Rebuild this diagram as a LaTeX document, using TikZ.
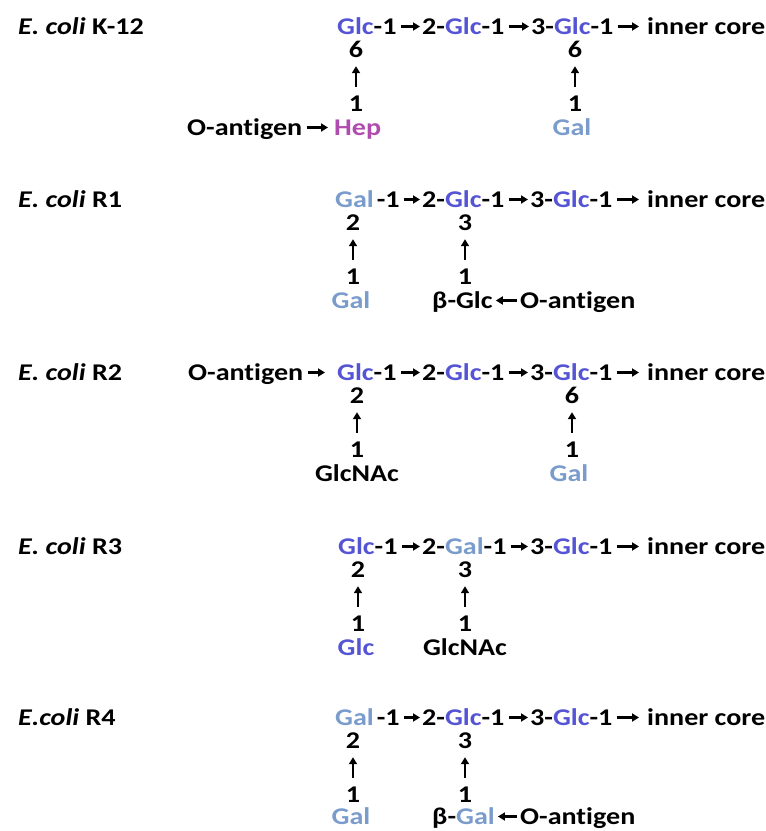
\documentclass[tikz,border=0pt]{standalone}
\usepackage{fontspec}
\setmainfont[FakeStretch=1.17, Ligatures=NoCommon]{Carlito}
\usetikzlibrary{arrows.meta}
\definecolor{glccol}{RGB}{84,84,212}
\definecolor{galcol}{RGB}{122,156,204}
\definecolor{hepcol}{RGB}{176,76,176}
\newcommand{\Glc}{\textcolor{glccol}{Glc}}
\newcommand{\Gal}{\textcolor{galcol}{Gal}}
\newcommand{\Hep}{\textcolor{hepcol}{Hep}}
\tikzset{
  txt/.style={inner sep=0pt, font=\fontsize{24}{24}\selectfont\bfseries, text height=15pt, text depth=0pt},
  lw/.style={txt, anchor=base west},
  lc/.style={txt, anchor=base},
  arrbase/.style={line width=2.2pt, -{Triangle[length=7pt,width=8pt]}},
  harr/.style={arrbase, shorten <=4pt, shorten >=2pt},
  varr/.style={arrbase, shorten <=9pt, shorten >=9pt},
}
\begin{document}
\begin{tikzpicture}[x=1pt,y=-1pt]
\useasboundingbox (0,0) rectangle (766,831);
% ---------- Row 1: K-12 ----------
\def\c{27}
\node[lw] (t1) at (18,\c+7) {\textit{E. coli} K-12};
\node[lw] (a1) at (337,\c+7) {\Glc-1};
\node[lw] (a2) at (422,\c+7) {2-\Glc-1};
\node[lw] (a3) at (531,\c+7) {3-\Glc-1};
\node[lw] (a4) at (647,\c+7) {inner core};
\draw[harr] (a1) -- (a2);
\draw[harr] (a2) -- (a3);
\draw[harr, shorten >=8pt] (a3) -- (a4);
\node[lc] (a5) at (356,\c+30) {6};
\node[lc] (a6) at (575,\c+30) {6};
\node[lc] (a7) at (356,\c+84) {1};
\node[lc] (a8) at (575,\c+84) {1};
\draw[varr] (a7) -- (a5);
\draw[varr] (a8) -- (a6);
\node[lw] (a9) at (187,\c+108) {O-antigen};
\node[lw] (a10) at (334,\c+108) {\Hep};
\node[lc] (a11) at (572,\c+108) {\Gal};
\draw[harr, shorten >=6pt] (a9) -- (a10);
% ---------- Row 2: R1 ----------
\def\c{200}
\node[lw] (t2) at (18,\c+7) {\textit{E. coli} R1};
\node[lw] (b1) at (335,\c+7) {\Gal\kern3pt-1};
\node[lw] (b2) at (422,\c+7) {2-\Glc-1};
\node[lw] (b3) at (530,\c+7) {3-\Glc-1};
\node[lw] (b4) at (647,\c+7) {inner core};
\draw[harr] (b1) -- (b2);
\draw[harr] (b2) -- (b3);
\draw[harr, shorten >=8pt] (b3) -- (b4);
\node[lc] (b5) at (353,\c+30) {2};
\node[lc] (b6) at (465,\c+30) {3};
\node[lc] (b7) at (353,\c+84) {1};
\node[lc] (b8) at (465,\c+84) {1};
\draw[varr] (b7) -- (b5);
\draw[varr] (b8) -- (b6);
\node[lc] (b9) at (351,\c+108) {\Gal};
\node[lw] (b10) at (432,\c+108) {β-Glc};
\node[lw] (b11) at (520,\c+108) {O-antigen};
\draw[harr, shorten <=3pt, shorten >=3pt] (b11) -- (b10);
% ---------- Row 3: R2 ----------
\def\c{373}
\node[lw] (t3) at (18,\c+7) {\textit{E. coli} R2};
\node[lw] (c0) at (188,\c+7) {O-antigen};
\node[lw] (c1) at (337,\c+7) {\Glc-1};
\node[lw] (c2) at (422,\c+7) {2-\Glc-1};
\node[lw] (c3) at (530,\c+7) {3-\Glc-1};
\node[lw] (c4) at (647,\c+7) {inner core};
\draw[harr, shorten >=12pt] (c0) -- (c1);
\draw[harr] (c1) -- (c2);
\draw[harr] (c2) -- (c3);
\draw[harr, shorten >=8pt] (c3) -- (c4);
\node[lc] (c5) at (357,\c+30) {2};
\node[lc] (c6) at (572,\c+30) {6};
\node[lc] (c7) at (357,\c+84) {1};
\node[lc] (c8) at (572,\c+84) {1};
\draw[varr] (c7) -- (c5);
\draw[varr] (c8) -- (c6);
\node[lc] (c9) at (357,\c+108) {GlcNAc};
\node[lc] (c10) at (569,\c+108) {\Gal};
% ---------- Row 4: R3 ----------
\def\c{547}
\node[lw] (t4) at (18,\c+7) {\textit{E. coli} R3};
\node[lw] (d1) at (338,\c+7) {\Glc-1};
\node[lw] (d2) at (422,\c+7) {2-\Gal-1};
\node[lw] (d3) at (530,\c+7) {3-\Glc-1};
\node[lw] (d4) at (647,\c+7) {inner core};
\draw[harr] (d1) -- (d2);
\draw[harr] (d2) -- (d3);
\draw[harr, shorten >=8pt] (d3) -- (d4);
\node[lc] (d5) at (358,\c+30) {2};
\node[lc] (d6) at (465,\c+30) {3};
\node[lc] (d7) at (358,\c+84) {1};
\node[lc] (d8) at (465,\c+84) {1};
\draw[varr] (d7) -- (d5);
\draw[varr] (d8) -- (d6);
\node[lc] (d9) at (356,\c+108) {\Glc};
\node[lc] (d10) at (465,\c+108) {GlcNAc};
% ---------- Row 5: R4 ----------
\def\c{718}
\node[lw] (t5) at (18,\c+7) {\textit{E.coli} R4};
\node[lw] (e1) at (335,\c+7) {\Gal\kern3pt-1};
\node[lw] (e2) at (422,\c+7) {2-\Glc-1};
\node[lw] (e3) at (530,\c+7) {3-\Glc-1};
\node[lw] (e4) at (647,\c+7) {inner core};
\draw[harr] (e1) -- (e2);
\draw[harr] (e2) -- (e3);
\draw[harr, shorten >=8pt] (e3) -- (e4);
\node[lc] (e5) at (353,\c+30) {2};
\node[lc] (e6) at (465,\c+30) {3};
\node[lc] (e7) at (353,\c+84) {1};
\node[lc] (e8) at (465,\c+84) {1};
\draw[varr] (e7) -- (e5);
\draw[varr] (e8) -- (e6);
\node[lc] (e9) at (351,\c+106) {\Gal};
\node[lw] (e10) at (432,\c+106) {β-\Gal};
\node[lw] (e11) at (520,\c+106) {O-antigen};
\draw[harr, shorten <=3pt, shorten >=3pt] (e11) -- (e10);
\end{tikzpicture}
\end{document}
